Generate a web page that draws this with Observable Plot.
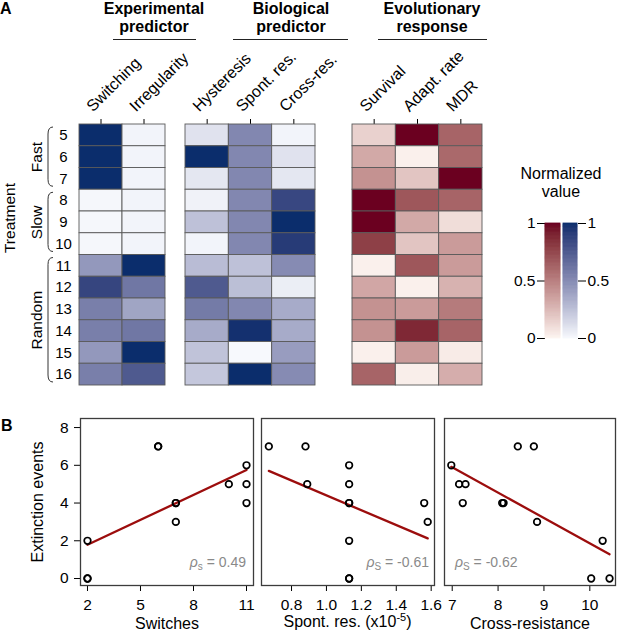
<!DOCTYPE html>
<html><head><meta charset="utf-8">
<script src="https://cdn.jsdelivr.net/npm/d3@7"></script>
<script src="https://cdn.jsdelivr.net/npm/@observablehq/plot@0.6"></script>
<style>
body{margin:0;background:#fff;font-family:"Liberation Sans",Arial,Helvetica,sans-serif;}
#fig{position:relative;width:617px;height:634px;overflow:hidden;background:#fff;}
#fig > svg{position:absolute;left:0;top:0;background:transparent !important;overflow:visible;}
.lbl{position:absolute;white-space:nowrap;color:#000;}
.rule{position:absolute;height:0;border-top:1.7px solid #222;}
</style></head><body><div id="fig"></div><script>
// ---------- data ----------
const treatments = [5,6,7,8,9,10,11,12,13,14,15,16];
const groups = [{name:"Fast", first:5, last:7},{name:"Slow", first:8, last:10},{name:"Random", first:11, last:16}];

const expCols = ["Switching","Irregularity"];
const bioCols = ["Hysteresis","Spont. res.","Cross-res."];
const evoCols = ["Survival","Adapt. rate","MDR"];

// normalized heat-map values, rows = treatments 5..16
const switching    = [1,1,1,0.01,0.01,0.01,0.44,0.86,0.56,0.56,0.44,0.56];
const irregularity = [0.02,0.02,0.02,0.02,0.02,0.02,1,0.6,0.38,0.6,1,0.75];
const hysteresis   = [0.1,1,0.08,0.03,0.25,0.02,0.27,0.75,0.58,0.35,0.24,0.22];
const spontResN    = [0.52,0.52,0.52,0.52,0.52,0.52,0.25,0.26,0.52,0.98,0,1];
const crossResN    = [0.02,0.1,0.08,0.85,1,0.92,0.5,0.05,0.35,0.35,0.42,0.5];
const survival     = [0.15,0.32,0.42,1,1,0.78,0.02,0.33,0.42,0.42,0.02,0.62];
const adaptRate    = [1,0.02,0.2,0.68,0.32,0.2,0.68,0.02,0.38,0.88,0.38,0.03];
const mdr          = [0.62,0.6,1,0.62,0.1,0.38,0.38,0.28,0.52,0.62,0.04,0.3];

// raw values for panel B, rows = treatments 5..16
const switches    = [11,11,11,2,2,2,6,10,7,7,6,7];
const spontRes    = [1.13,1.13,1.13,1.13,1.13,1.13,0.88,0.89,1.13,1.56,0.67,1.58];
const crossResist = [6.98,7.15,7.23,10.03,10.43,10.28,8.78,7.29,8.09,8.12,8.43,8.85];
const extinction  = [6,5,4,0,0,2,7,5,4,4,7,3];
const rhoValues   = ["0.49","-0.61","-0.62"];

const legendTicks = [0,0.5,1];
const blueRange = ["#f7f9fd","#0b2d6c"];
const redRange  = ["#fdf5f1","#6b0020"];

// ---------- layout ----------
const W = 617, H = 634;
const FONT = '"Liberation Sans",Arial,Helvetica,sans-serif';
const fig = document.getElementById("fig");
const baseStyle = {background:"transparent", overflow:"visible", fontFamily:FONT, color:"#000"};

function heatmap(cols, series, left, right, range, extra) {
  const cells = [];
  series.forEach((vals, j) => vals.forEach((v, i) => cells.push({j, i, v})));
  return Plot.plot({
    width: W, height: H,
    marginLeft: left, marginRight: W - right, marginTop: 124, marginBottom: H - 385,
    style: {...baseStyle, fontSize: "15px"},
    x: {domain: [0, cols.length], axis: "top", ticks: cols.map((c, j) => j + 0.5), tickSize: 6, tickFormat: () => "", label: null},
    y: {domain: [0, treatments.length], reverse: true, axis: null},
    color: {type: "linear", domain: [0, 1], range, interpolate: "lab"},
    marks: [
      Plot.rect(cells, {x1: d => d.j, x2: d => d.j + 1, y1: d => d.i, y2: d => d.i + 1, fill: "v", stroke: "#5a5a5a", strokeWidth: 0.9}),
      Plot.text(cols, {x: (d, j) => j + 0.5, frameAnchor: "top", text: d => d, rotate: -45, textAnchor: "start", lineAnchor: "bottom", dx: -8, dy: -12, fontSize: 16}),
      ...(extra || [])
    ]
  });
}

const hm1 = heatmap(expCols, [switching, irregularity], 79, 165, blueRange, [
  Plot.text(treatments, {y: (d, i) => i + 0.5, frameAnchor: "left", dx: -16, text: d => String(d), textAnchor: "middle", fontSize: 15}),
  Plot.text(groups, {y: g => (g.first + g.last + 1) / 2 - treatments[0], frameAnchor: "left", dx: -42, rotate: -90, text: "name", textAnchor: "middle", fontSize: 15.5})
]);
const hm2 = heatmap(bioCols, [hysteresis, spontResN, crossResN], 185, 315, blueRange);
const hm3 = heatmap(evoCols, [survival, adaptRate, mdr], 352, 482, redRange);
fig.append(hm1, hm2, hm3);

// group brackets drawn with the heat-map's own y scale
{
  const ys = hm1.scale("y");
  const xr = 53, xl = 48;
  d3.select(hm1).append("g").selectAll("path").data(groups).join("path")
    .attr("d", g => {
      const y1 = ys.apply(g.first - treatments[0]) + 3;
      const y2 = ys.apply(g.last - treatments[0] + 1) - 3;
      return `M${xr},${y1}Q${xl},${y1} ${xl},${y1 + 7}L${xl},${y2 - 7}Q${xl},${y2} ${xr},${y2}`;
    })
    .attr("fill", "none").attr("stroke", "#333").attr("stroke-width", 1);
}

// legend bars
const stops = d3.range(0, 100).map(k => k / 100);
function legendBar(range, side, left, right) {
  return Plot.plot({
    width: W, height: H,
    marginLeft: left, marginRight: W - right, marginTop: 223, marginBottom: H - 338,
    style: {...baseStyle, fontSize: "15.5px"},
    x: {domain: [0, 1], axis: null},
    y: {domain: [0, 1], axis: side, ticks: legendTicks, tickSize: 8, tickPadding: 2, tickFormat: d => String(d), label: null},
    color: {type: "linear", domain: [0, 1], range, interpolate: "lab"},
    marks: [Plot.rect(stops, {x1: 0, x2: 1, y1: d => d, y2: d => Math.min(1, d + 0.01), fill: d => d + 0.005, stroke: d => d + 0.005, strokeWidth: 0.8})]
  });
}
fig.append(legendBar(redRange, "left", 545, 560), legendBar(blueRange, "right", 563, 577));

// scatter panels
function scatter(xs, left, right, xdomain, xticks, xfmt, extra, showY) {
  const pts = treatments.map((t, i) => ({t, x: xs[i], y: extinction[i]}));
  return Plot.plot({
    width: W, height: H,
    marginLeft: left, marginRight: W - right, marginTop: 418, marginBottom: H - 585,
    style: {...baseStyle, fontSize: "15.5px"},
    x: {domain: xdomain, ticks: xticks, tickSize: 6, tickPadding: 7, tickFormat: xfmt, label: null},
    y: {domain: [-0.37, 8.48], ticks: [0, 2, 4, 6, 8], tickSize: 6, tickPadding: 6, label: null, axis: showY ? "left" : null},
    marks: [
      Plot.frame({stroke: "#3c3c3c", strokeWidth: 1.3}),
      Plot.linearRegressionY(pts, {x: "x", y: "y", stroke: "#9c0d0d", strokeWidth: 2.3, ci: 0}),
      Plot.dot(pts, {x: "x", y: "y", r: 3.3, stroke: "#000", strokeWidth: 1.7, fill: "none"}),
      ...(extra || [])
    ]
  });
}
const sc1 = scatter(switches, 80, 253, [1.604, 11.396], [2, 5, 8, 11], d => String(d), [
  Plot.text(["Switches"], {frameAnchor: "bottom", text: d => d, dy: 43, lineAnchor: "bottom", fontSize: 16}),
  Plot.text(["Extinction events"], {frameAnchor: "left", text: d => d, rotate: -90, dx: -43, textAnchor: "middle", fontSize: 16})
], true);
const sc2 = scatter(spontRes, 261, 434, [0.628, 1.619], [0.8, 1.0, 1.2, 1.4, 1.6], d3.format(".1f"), [], false);
const sc3 = scatter(crossResist, 444, 615, [6.832, 10.56], [7, 8, 9, 10], d => String(d), [
  Plot.text(["Cross-resistance"], {frameAnchor: "bottom", text: d => d, dy: 43, lineAnchor: "bottom", fontSize: 16})
], false);
fig.append(sc1, sc2, sc3);

// ---------- HTML text ----------
function topFor(baseline, size, lh) { return baseline - ((lh - 1.117 * size) / 2 + 0.905 * size); }
function addLabel(html, o) {
  const d = document.createElement("div");
  d.className = "lbl";
  d.innerHTML = html;
  const size = o.size || 15, lh = o.lh || size;
  d.style.fontSize = size + "px";
  d.style.lineHeight = lh + "px";
  if (o.bold) d.style.fontWeight = "bold";
  if (o.color) d.style.color = o.color;
  d.style.top = topFor(o.baseline, size, lh) + "px";
  if (o.align === "center") { d.style.left = o.x + "px"; d.style.transform = "translateX(-50%)"; d.style.textAlign = "center"; }
  else if (o.align === "right") { d.style.right = (W - o.x) + "px"; d.style.textAlign = "right"; }
  else d.style.left = o.x + "px";
  fig.appendChild(d);
  return d;
}
function addRule(x, y, w) {
  const d = document.createElement("div");
  d.className = "rule";
  d.style.left = x + "px"; d.style.top = (y - 0.85) + "px"; d.style.width = w + "px";
  fig.appendChild(d);
}

addLabel("A", {x: 0, baseline: 15, size: 16, bold: true});
addLabel("B", {x: 1, baseline: 432, size: 16, bold: true});
addLabel("Experimental<br>predictor", {x: 154, baseline: 15, size: 16, lh: 18, bold: true, align: "center"});
addLabel("Biological<br>predictor", {x: 291, baseline: 15, size: 16, lh: 18, bold: true, align: "center"});
addLabel("Evolutionary<br>response", {x: 432, baseline: 15, size: 16, lh: 18, bold: true, align: "center"});
addRule(113, 39.5, 83);
addRule(233, 39.5, 115);
addRule(378, 39.5, 109);
addLabel("Normalized<br>value", {x: 561, baseline: 180, size: 16, lh: 18, align: "center"});

{
  const t = document.createElement("div");
  t.className = "lbl";
  t.textContent = "Treatment";
  t.style.fontSize = "15.5px"; t.style.lineHeight = "13px";
  t.style.left = "8.5px"; t.style.top = "218px";
  t.style.transform = "translate(-50%,-50%) rotate(-90deg)";
  fig.appendChild(t);
}

addLabel('Spont. res. (x10<span style="font-size:11px;position:relative;top:-6px">-5</span>)', {x: 347.5, baseline: 628, size: 16, align: "center"});

const sub = s => `<span style="font-size:10px;position:relative;top:3px">${s}</span>`;
addLabel(`<i>ρ</i>${sub("s")} = ${rhoValues[0]}`, {x: 246, baseline: 567, size: 14, color: "#8a8a8a", align: "right"});
addLabel(`<i>ρ</i>${sub("S")} = ${rhoValues[1]}`, {x: 429, baseline: 567, size: 14, color: "#8a8a8a", align: "right"});
addLabel(`<i>ρ</i>${sub("S")} = ${rhoValues[2]}`, {x: 455, baseline: 567, size: 14, color: "#8a8a8a"});
</script></body></html>
